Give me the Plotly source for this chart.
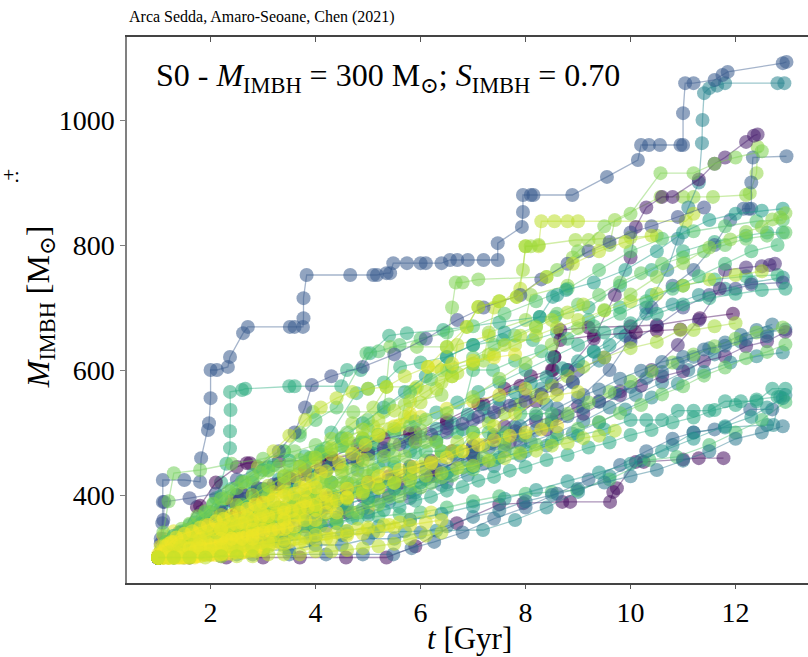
import plotly.graph_objects as go
from plotly.colors import sample_colorscale

# ---- IMBH growth histories: viridis colour value, then (t [Gyr], M [Msun]) events ----
purple_runs = [
    (0.04, [(1.0,300),(1.6,300),(2.3,300),(3.0,300),(3.7,300),(4.58,300),(5.35,300),(5.9,318),(6.69,355),(7.5,385),(7.96,387),(8.7,389),(8.85,389),(9.61,389),(9.67,405),(9.74,411),(10.1,453),(10.25,453),(11.0,457),(11.3,459),(11.77,459)]),
    (0.08, [(1.0,300),(1.5,304),(2.2,315),(3.0,330),(3.8,350),(4.6,372),(5.4,400),(6.2,430),(7.0,470),(7.6,510),(8.2,550),(8.8,600),(9.3,650),(9.7,720),(10.0,780),(10.1,829),(10.3,860),(10.6,877),(10.8,877),(11.3,905),(11.6,930),(11.8,940),(12.2,965),(12.35,975),(12.42,977)]),
    (0.02, [(1.0,300),(1.2,315),(1.45,340),(1.74,381),(1.8,383),(2.1,420),(2.5,445),(2.69,451),(2.75,451),(3.3,454),(4.21,456),(4.3,458),(5.0,470),(5.8,490),(6.5,515),(7.2,545),(7.9,575),(8.52,600),(8.55,621),(8.66,664),(9.2,668),(10.0,670),(10.5,672),(11.32,683),(11.95,690)]),
    (0.12, [(1.0,300),(1.5,310),(2.1,325),(2.8,345),(3.5,362),(4.2,380),(4.9,398),(5.6,420),(6.3,440),(7.0,462),(7.7,485),(8.4,505),(9.1,530),(9.8,560),(10.4,600),(10.9,640),(11.3,680),(11.7,730),(11.8,760),(12.2,764),(12.5,766),(12.65,768),(12.75,770)]),
    (0.0, [(1.0,300),(1.3,306),(1.7,320),(2.1,345),(2.5,372),(2.9,395),(3.3,418),(3.8,440),(4.3,460),(4.8,480),(5.3,490),(5.8,499),(5.9,500),(6.5,520),(7.1,545),(7.6,570),(8.1,590),(8.5,600),(8.55,621),(8.66,648),(9.3,655),(10.1,660),(10.5,663),(10.95,665)]),
    (0.1, [(1.0,300),(1.4,311),(1.8,322),(2.2,336),(2.6,347),(3.0,361),(3.4,371),(3.8,386),(4.2,395),(4.6,409),(5.0,421),(5.4,430),(5.8,446),(6.2,455),(6.6,470),(7.0,478),(7.4,493),(7.8,502),(8.2,518),(8.6,527),(9.0,542),(9.4,550),(9.8,566),(10.2,575),(10.6,590),(11.0,598),(11.4,614),(11.8,622),(12.2,638),(12.6,646),(12.95,661)]),
]

blue_runs = [
    (0.28, [(1.0,300),(1.05,330),(1.08,355),(1.09,389),(1.09,424),(1.5,424),(1.8,421),(1.82,459),(1.95,504),(1.97,515),(2.0,555),(2.0,600),(2.12,600),(2.33,605),(2.37,621),(2.62,659),(2.71,669),(3.51,669),(3.6,669),(3.76,669),(3.77,683),(3.77,715),(3.83,752),(4.66,752),(5.1,752),(5.17,752),(5.35,755),(5.42,755),(5.48,771),(5.74,771),(6.0,771),(6.1,771),(6.4,771),(6.56,776),(6.7,776),(6.9,776),(7.2,776),(7.47,776),(7.47,803),(7.93,829),(7.95,853),(7.95,880),(8.1,880),(8.15,880),(8.89,880),(9.55,909),(10.14,936),(10.2,960),(10.35,960),(10.56,960),(10.95,960),(11.0,960),(11.0,1011),(11.04,1059),(11.2,1059),(11.6,1064),(11.75,1072),(11.85,1077),(12.9,1091),(12.97,1093)]),
    (0.3, [(1.0,300),(1.6,305),(2.4,318),(3.3,332),(4.2,350),(5.0,372),(5.8,395),(6.5,420),(7.2,450),(7.9,482),(8.5,520),(9.1,560),(9.6,600),(10.0,650),(10.4,700),(10.8,735),(11.2,760),(11.6,800),(11.9,840),(12.15,858),(12.25,858),(12.3,858),(12.3,900),(12.33,940),(12.97,942)]),
    (0.22, [(1.0,300),(1.1,330),(1.4,340),(1.9,352),(2.5,400),(2.6,402),(3.0,410),(3.6,420),(4.2,440),(4.8,455),(5.3,470),(5.9,485),(6.5,500),(7.0,520),(7.5,540),(8.0,560),(8.5,580),(9.0,600),(9.5,620),(10.0,645),(10.5,670),(11.0,700),(11.5,720),(12.0,730),(12.3,737),(12.9,740)]),
    (0.33, [(1.0,300),(1.6,300),(2.2,302),(2.8,305),(3.5,305),(4.2,305),(4.9,305),(5.48,305),(5.83,315),(6.26,325),(6.8,340),(7.4,362),(8.0,380),(8.6,402),(9.2,425),(9.8,448),(10.3,470),(10.8,490),(11.2,500),(11.6,505),(12.28,537),(12.7,537)]),
    (0.25, [(1.0,300),(1.05,322),(1.1,360),(1.12,389),(1.6,395),(2.1,402),(2.5,425),(2.9,445),(3.3,470),(3.6,500),(3.8,540),(3.93,576),(4.3,590),(4.9,605),(5.5,625),(6.1,650),(6.7,680),(7.2,700),(7.9,720),(8.3,745),(8.8,770),(9.2,790),(9.6,805),(10.0,820),(10.4,830),(10.9,845),(11.4,860)]),
    (0.2, [(1.0,300),(1.3,318),(1.6,336),(1.9,351),(2.2,373),(2.4,391),(2.5,400),(2.6,402),(2.9,411),(3.2,417),(3.5,427),(3.8,433),(4.1,443),(4.4,449),(4.7,459),(5.0,465),(5.3,475),(5.6,481),(5.9,491),(6.2,497),(6.5,507),(6.8,514),(7.1,525),(7.4,532),(7.7,543),(8.0,550),(8.3,561),(8.6,569),(8.9,581)]),
    (0.38, [(1.0,300),(1.3,307),(1.6,314),(1.9,326),(2.2,334),(2.5,346),(2.8,354),(3.1,366),(3.4,371),(3.7,381),(4.0,387),(4.3,396),(4.6,401),(4.9,411),(5.2,417),(5.5,426),(5.8,431),(6.1,441),(6.4,447),(6.7,457),(7.0,464),(7.3,475),(7.6,483),(7.9,495),(8.2,504),(8.5,517),(8.8,526),(9.1,539),(9.4,549),(9.7,563),(10.0,573),(10.3,587),(10.6,597),(10.9,611),(11.2,621),(11.5,635),(11.8,644),(12.1,656),(12.4,664),(12.7,673)]),
    (0.35, [(1.0,300),(1.4,308),(1.8,319),(2.2,329),(2.6,341),(3.0,351),(3.4,363),(3.8,374),(4.2,389),(4.6,399),(5.0,413),(5.4,424),(5.8,439),(6.2,451),(6.6,466),(7.0,479),(7.4,496),(7.8,509),(8.2,526),(8.6,539),(9.0,556),(9.4,569),(9.8,586),(10.2,599),(10.6,613),(11.0,621),(11.4,633),(11.8,639),(12.2,649),(12.6,654)]),
]

teal_runs = [
    (0.45, [(1.0,300),(1.3,300),(1.7,308),(2.1,318),(2.6,325),(3.2,340),(3.9,355),(4.5,372),(5.2,390),(5.8,405),(6.3,430),(6.9,455),(7.4,482),(7.9,510),(8.4,545),(8.9,580),(9.4,615),(9.9,655),(10.3,700),(10.7,760),(10.9,810),(11.1,860),(11.3,900),(11.36,963),(11.37,1000),(11.4,1043),(11.5,1051),(11.65,1055),(11.8,1059),(12.8,1059),(12.93,1059)]),
    (0.5, [(1.0,300),(1.2,310),(1.6,320),(2.0,340),(2.4,356),(2.8,370),(3.3,380),(3.8,398),(4.3,420),(4.8,440),(5.3,455),(5.8,470),(6.3,488),(6.8,505),(7.3,525),(7.8,545),(8.3,570),(8.8,600),(9.3,630),(9.8,660),(10.3,690),(10.8,705),(11.3,720),(11.8,730),(12.3,740),(12.9,748)]),
    (0.48, [(1.0,300),(1.5,303),(2.1,310),(2.7,318),(3.3,325),(3.9,330),(4.5,336),(5.1,340),(5.7,342),(6.3,343),(7.19,344),(7.8,360),(8.4,380),(9.0,405),(9.6,430),(10.2,455),(10.8,480),(11.2,500),(11.8,508),(12.6,512),(12.72,512),(12.85,557),(12.95,560)]),
    (0.42, [(1.0,300),(1.3,310),(1.7,318),(2.1,330),(2.6,340),(3.1,352),(3.6,360),(4.1,372),(4.6,385),(5.1,398),(5.6,410),(6.1,425),(6.6,440),(7.1,455),(7.6,470),(8.1,485),(8.6,500),(9.1,518),(9.6,540),(10.1,560),(10.6,580),(11.1,600),(11.6,625),(12.1,645),(12.6,660),(12.95,665)]),
    (0.55, [(1.0,300),(1.2,318),(1.5,335),(1.8,352),(2.1,365),(2.5,385),(2.9,405),(3.3,425),(3.7,445),(4.1,465),(4.5,490),(4.9,515),(5.3,540),(5.7,565),(6.1,590),(6.5,621),(7.0,640),(7.6,660),(8.27,685),(8.52,717),(8.6,720),(8.77,728),(9.3,740),(9.9,760),(10.5,790),(11.0,820),(11.5,840),(12.0,850),(12.5,855),(12.9,858)]),
    (0.55, [(1.0,300),(1.1,311),(1.25,319),(1.4,333),(1.55,344),(1.7,356),(1.85,364),(2.0,373),(2.2,379),(2.4,389),(2.6,394),(2.8,403),(3.0,409),(3.3,419),(3.6,424),(3.9,433),(4.2,439),(4.5,449),(4.8,455),(5.1,466),(5.4,473),(5.7,485),(6.0,493),(6.3,506),(6.6,515),(6.9,529),(7.2,539),(7.5,553),(7.8,564),(8.1,579),(8.4,589),(8.7,603),(9.0,614),(9.3,629),(9.6,640)]),
    (0.47, [(1.0,300),(1.4,304),(1.9,313),(2.4,321),(2.9,334),(3.4,342),(3.9,356),(4.4,364),(4.9,378),(5.4,389),(5.9,404),(6.4,416),(6.9,432),(7.4,446),(7.9,463),(8.4,479),(8.9,498),(9.4,516),(9.9,537),(10.4,556),(10.9,578),(11.4,597),(11.9,612),(12.4,622),(12.9,628)]),
    (0.4, [(1.0,300),(1.5,300),(2.0,305),(2.5,305),(3.0,312),(3.5,312),(4.0,320),(4.5,320),(5.0,330),(5.5,330),(6.0,340),(6.5,350),(7.0,365),(7.5,375),(8.0,390),(8.5,400),(9.0,410),(9.5,420),(10.0,430),(10.5,440),(11.0,455),(11.5,470),(12.0,490),(12.5,500),(12.9,510)]),
    (0.52, [(1.0,300),(1.6,304),(2.2,310),(2.8,318),(3.4,326),(4.0,334),(4.6,342),(5.2,350),(5.8,360),(6.4,370),(7.0,382),(7.6,394),(8.2,408),(8.8,422),(9.4,436),(10.0,450),(10.6,470),(11.2,490),(11.8,510),(12.3,525),(12.6,540),(12.9,555)]),
]

green_runs = [
    (0.62, [(1.0,300),(1.3,310),(1.6,330),(1.9,360),(2.1,395),(2.2,420),(2.3,450),(2.37,475),(2.37,502),(2.38,536),(2.37,565),(2.6,568),(2.66,570),(3.5,574),(3.6,574),(4.49,574),(4.6,600),(4.86,600),(5.04,627),(5.4,655),(5.74,659),(6.43,664),(7.5,676),(8.27,685),(8.56,685),(9.2,700),(9.8,735),(10.4,760),(11.0,790),(11.6,805),(12.2,815),(12.6,820),(12.9,820)]),
    (0.65, [(1.0,300),(1.5,312),(2.0,335),(2.5,365),(3.0,395),(3.5,430),(3.95,460),(4.3,500),(4.78,563),(5.0,570),(5.3,580),(5.61,605),(6.0,612),(6.5,621),(7.0,640),(7.57,648),(8.14,648),(8.6,660),(9.2,680),(9.8,700),(10.4,720),(11.0,735),(11.6,745),(12.2,750),(12.8,752)]),
    (0.7, [(1.0,300),(1.3,300),(1.6,305),(2.0,310),(2.4,316),(2.8,322),(3.2,330),(3.6,338),(4.0,346),(4.4,355),(4.8,362),(5.2,366),(5.6,369),(6.0,372),(6.5,380),(7.0,390),(7.5,398),(8.0,402),(8.5,405),(8.98,408),(9.6,425),(10.36,456),(10.88,461),(11.5,480),(12.0,500),(12.5,520),(12.95,549)]),
    (0.72, [(1.0,300),(1.15,310),(1.35,325),(1.6,340),(1.9,360),(2.2,380),(2.5,400),(2.8,420),(3.1,445),(3.4,470),(3.7,495),(4.0,520),(4.4,540),(4.97,627),(5.2,630),(5.6,640),(6.0,650),(6.5,660),(7.0,670),(7.6,690),(8.2,710),(8.8,730),(9.4,760),(10.0,790),(10.6,810),(11.2,822),(11.8,830),(12.4,838),(12.9,840)]),
    (0.68, [(1.0,300),(1.2,305),(1.5,312),(1.9,322),(2.3,332),(2.7,345),(3.1,358),(3.5,372),(3.9,388),(4.3,402),(4.7,418),(5.1,435),(5.5,450),(5.9,468),(6.3,485),(6.7,500),(7.0,600),(7.38,600),(7.8,615),(8.3,630),(8.8,650),(9.3,670),(9.8,690),(10.3,710),(10.8,730),(11.3,750),(11.8,770),(12.3,790),(12.8,800)]),
    (0.6, [(1.0,300),(1.1,305),(1.3,318),(1.6,330),(1.8,345),(2.0,355),(2.3,362),(2.7,380),(3.1,398),(3.5,412),(3.9,430),(4.3,448),(4.7,465),(5.1,482),(5.5,500),(5.9,518),(6.3,532),(6.7,548),(7.1,565),(7.5,580),(8.0,600),(8.5,620),(9.0,640),(9.5,660),(10.0,675),(10.5,690),(11.0,705),(11.5,715),(12.0,722),(12.5,728),(12.95,730)]),
    (0.6, [(1.0,300),(1.2,301),(1.4,306),(1.6,309),(1.8,315),(2.0,317),(2.3,323),(2.6,325),(2.9,331),(3.2,334),(3.5,341),(3.8,344),(4.1,351),(4.4,355),(4.7,363),(5.0,367),(5.3,376),(5.6,381),(5.9,391),(6.2,397),(6.5,407),(6.8,413),(7.1,423),(7.4,429),(7.7,439),(8.0,445),(8.4,456),(8.8,464),(9.2,476),(9.6,484),(10.0,496),(10.4,504),(10.8,516),(11.2,524),(11.6,536),(12.0,544),(12.4,553),(12.8,557)]),
    (0.76, [(1.0,300),(1.4,304),(1.8,316),(2.2,321),(2.6,331),(3.0,339),(3.4,351),(3.8,357),(4.2,369),(4.6,377),(5.0,389),(5.4,397),(5.8,411),(6.2,419),(6.6,431),(7.0,441),(7.4,456),(7.8,467),(8.2,481),(8.6,491),(9.0,506),(9.4,517),(9.8,531),(10.2,544),(10.6,561),(11.0,574),(11.4,591),(11.8,604),(12.2,619),(12.6,629),(12.95,641)]),
    (0.7, [(1.0,300),(1.2,310),(1.4,310),(1.6,310),(1.8,330),(2.0,330),(2.2,330),(2.4,350),(2.6,350),(2.8,350),(3.0,375),(3.2,375),(3.4,375),(3.6,395),(3.8,395),(4.0,395),(4.3,420),(4.6,420),(4.9,420),(5.2,445),(5.5,445),(5.8,445),(6.1,470),(6.4,470),(6.7,470),(7.0,500),(7.3,500),(7.6,500),(7.9,530),(8.2,530),(8.5,530)]),
    (0.58, [(1.0,300),(1.5,310),(2.0,320),(2.5,335),(3.0,345),(3.5,360),(4.0,370),(4.5,385),(5.0,395),(5.5,410),(6.0,420),(6.5,435),(7.0,445),(7.5,460),(8.0,470),(8.5,485),(9.0,495),(9.5,505),(10.0,520),(10.3,520),(10.6,520),(10.9,535),(11.2,535),(11.5,535),(11.8,550),(12.1,550),(12.4,550),(12.7,570),(12.95,570)]),
    (0.75, [(1.0,300),(1.4,320),(1.8,340),(2.2,362),(2.6,385),(3.0,408),(3.4,430),(3.8,452),(4.2,475),(4.6,500),(5.0,520),(5.4,545),(5.8,565),(6.2,585),(6.6,605),(7.0,620),(7.4,640),(7.8,655),(8.2,670),(8.6,690),(9.0,705),(9.4,720),(9.8,740),(10.2,755),(10.6,770),(11.0,780),(11.4,790),(11.8,800),(12.2,810),(12.6,815),(12.95,820)]),
]

lime_runs = [
    (0.83, [(1.0,300),(1.3,300),(1.4,322),(2.1,330),(2.2,355),(3.0,365),(3.1,395),(3.9,405),(4.0,440),(4.8,452),(4.9,490),(5.6,505),(5.7,545),(6.4,560),(6.5,600),(7.2,615),(7.3,660),(8.0,680),(8.1,720),(8.8,735),(8.9,780),(9.6,800),(9.7,840),(10.57,877),(11.0,877),(11.2,877),(11.57,877),(12.2,880),(12.27,883),(12.4,915),(12.42,957)]),
    (0.9, [(1.0,300),(1.2,310),(1.5,310),(1.6,330),(2.3,335),(2.4,365),(3.2,375),(3.3,410),(4.1,420),(4.2,460),(5.0,470),(5.1,510),(5.8,525),(5.9,570),(6.6,590),(6.7,640),(7.3,655),(7.4,700),(7.9,730),(8.0,798),(8.25,798),(8.3,838),(8.55,838),(8.8,838),(9.0,838),(11.05,838),(11.2,850)]),
    (0.85, [(1.0,300),(1.2,315),(1.5,330),(1.9,345),(2.3,365),(2.7,390),(3.1,410),(3.5,435),(3.9,460),(4.3,490),(4.7,515),(5.1,540),(5.35,573),(5.93,573),(6.4,600),(6.88,669),(7.1,701),(7.5,710),(7.83,717),(7.95,760),(8.0,798),(8.1,798),(8.25,800),(8.95,808),(9.2,808),(9.4,810),(10.0,812),(10.5,815)]),
    (0.8, [(1.0,300),(1.4,310),(1.8,330),(2.2,355),(2.5,380),(2.8,410),(3.1,440),(3.4,470),(3.7,500),(3.95,533),(4.72,533),(5.3,533),(5.42,637),(5.93,637),(6.5,637),(6.6,700),(6.67,740),(6.8,740),(7.1,745),(8.4,749),(8.6,760),(9.0,790),(9.5,830),(10.0,850),(10.57,915),(11.2,915),(11.6,930),(12.0,940),(12.5,950)]),
    (0.88, [(1.0,300),(1.2,302),(1.5,310),(1.8,318),(2.1,328),(2.4,340),(2.7,352),(3.0,365),(3.3,380),(3.6,395),(3.9,412),(4.2,428),(4.5,445),(4.8,465),(5.1,485),(5.4,505),(5.7,525),(6.0,548),(6.3,570),(6.6,590),(7.0,610),(7.4,625),(7.8,640),(8.2,655),(8.6,668),(9.0,680),(9.5,695),(10.0,710),(10.5,722),(11.0,735),(11.5,745),(12.0,752),(12.5,758)]),
    (0.86, [(1.0,300),(1.1,300),(1.3,305),(1.6,308),(1.9,315),(2.2,320),(2.5,328),(2.8,336),(3.1,345),(3.4,355),(3.7,365),(4.0,375),(4.3,385),(4.6,395),(4.9,406),(5.2,418),(5.5,430),(5.8,442),(6.1,455),(6.4,470),(6.7,485),(7.0,500),(7.3,515),(7.6,530),(7.9,545),(8.2,560),(8.5,575),(8.8,590),(9.1,605),(9.5,620),(10.0,635),(10.5,645),(10.95,664),(11.2,664),(11.6,670),(12.0,675)]),
    (0.9, [(1.0,300),(1.2,312),(1.45,330),(1.7,350),(2.0,372),(2.3,395),(2.6,420),(2.9,445),(3.2,470),(3.5,495),(3.8,520),(4.1,540),(4.4,555),(4.7,565),(5.0,570),(5.35,573),(5.7,590),(6.14,605),(6.5,637),(6.88,669),(7.1,701),(7.5,710),(7.83,717),(8.4,749),(8.9,770),(9.4,790),(9.9,805),(10.4,815)]),
    (0.8, [(1.0,300),(1.2,300),(1.4,302),(1.7,306),(2.0,312),(2.4,318),(2.8,325),(3.2,332),(3.6,340),(4.0,350),(4.4,360),(4.8,372),(5.2,385),(5.6,398),(6.0,412),(6.4,428),(6.8,444),(7.2,460),(7.6,478),(8.0,495),(8.4,512),(8.8,530),(9.2,548),(9.6,565),(10.0,582),(10.4,598),(10.8,612),(11.2,625),(11.6,638),(12.0,650),(12.4,660),(12.9,668)]),
    (0.78, [(1.0,300),(1.1,340),(1.2,390),(1.3,435),(1.8,440),(2.4,450),(3.0,458),(3.6,470),(4.0,480),(4.5,492),(5.0,505)]),
    (0.75, [(1.0,300),(1.15,302),(1.3,306),(1.5,312),(1.7,318),(1.9,322),(2.1,328),(2.3,335),(2.5,340),(2.7,346),(2.9,352),(3.1,358),(3.3,365),(3.5,372),(3.7,378),(3.9,385),(4.1,390),(4.4,398),(4.7,405),(5.0,412),(5.4,420),(5.8,428)]),
    (0.65, [(1.0,300),(1.05,310),(1.15,325),(1.3,335),(1.45,342),(1.6,352),(1.75,362),(1.9,372),(2.05,385),(2.2,398),(2.4,410),(2.6,422),(2.8,432),(3.0,440),(3.2,448),(3.5,455),(3.8,462),(4.1,470),(4.5,478),(4.9,485)]),
    (0.85, [(1.0,300),(1.1,301),(1.2,306),(1.3,307),(1.4,311),(1.5,312),(1.6,317),(1.7,318),(1.8,323),(1.9,325),(2.0,329),(2.1,332),(2.2,336),(2.35,341),(2.5,346),(2.65,351),(2.8,356),(2.95,361),(3.1,366),(3.25,371),(3.4,377),(3.55,383),(3.7,389),(3.85,395),(4.0,401),(4.2,407),(4.4,413),(4.6,419),(4.8,425),(5.0,431)]),
    (0.8, [(1.0,300),(1.15,321),(1.3,331),(1.45,346),(1.6,354),(1.75,366),(1.9,374),(2.05,386),(2.2,394),(2.35,406),(2.5,411),(2.65,421),(2.8,427),(2.95,436),(3.1,439),(3.3,446),(3.5,449),(3.7,456),(3.9,459),(4.1,467),(4.3,471),(4.5,479),(4.7,483),(4.9,491),(5.2,497),(5.5,506),(5.8,511),(6.1,521)]),
    (0.88, [(1.0,300),(1.3,306),(1.6,311),(1.9,321),(2.2,327),(2.5,337),(2.8,344),(3.1,355),(3.4,362),(3.7,373),(4.0,380),(4.3,391),(4.6,397),(4.9,406),(5.2,411),(5.5,419),(5.8,423),(6.1,431),(6.4,435),(6.7,443),(7.0,447),(7.3,455),(7.6,459),(7.9,467),(8.2,471),(8.5,479),(8.8,483),(9.1,491),(9.4,495),(9.7,503)]),
    (0.82, [(1.0,300),(1.5,316),(2.0,329),(2.5,351),(3.0,369),(3.5,391),(4.0,411),(4.5,436),(5.0,457),(5.5,481),(6.0,504),(6.5,531),(7.0,557),(7.5,586),(8.0,611),(8.5,641),(9.0,667),(9.5,696),(10.0,721),(10.5,749),(11.0,771),(11.5,796),(11.9,809),(12.2,821),(12.5,829),(12.7,841),(12.85,844),(12.95,851)]),
    (0.82, [(1.0,300),(1.15,325),(1.3,325),(1.5,325),(1.7,340),(1.9,340),(2.1,340),(2.3,360),(2.5,360),(2.7,360),(2.9,380),(3.1,380),(3.3,380),(3.5,402),(3.7,402),(3.9,402),(4.1,420),(4.3,420),(4.5,420),(4.7,440),(4.9,440),(5.1,440),(5.3,462),(5.5,462),(5.7,462),(5.9,485),(6.1,485),(6.3,485)]),
    (0.88, [(1.0,300),(1.3,318),(1.6,336),(1.9,352),(2.2,368),(2.5,384),(2.8,400),(3.1,415),(3.4,430),(3.7,445),(4.0,460),(4.3,475),(4.6,490),(4.9,505),(5.2,520),(5.5,535),(5.8,550),(6.1,565),(6.4,580),(6.7,595),(7.0,610),(7.3,625),(7.6,640),(7.9,655),(8.2,668),(8.5,680),(8.8,692),(9.1,705)]),
]

yellow_runs = [
    (1.0, [(1.0,300),(1.1,300),(1.25,302),(1.4,305),(1.55,305),(1.7,308),(1.9,312),(2.1,312),(2.3,318),(2.5,320),(2.7,326),(2.9,330),(3.1,333),(3.3,340),(3.5,342)]),
    (0.97, [(1.0,300),(1.15,306),(1.3,310),(1.5,318),(1.7,320),(1.85,328),(2.0,335),(2.2,340),(2.4,352),(2.6,355),(2.8,362),(3.0,370),(3.3,372),(3.6,380),(3.9,388),(4.2,392)]),
    (0.95, [(1.0,300),(1.2,300),(1.45,300),(1.6,304),(1.8,310),(2.0,315),(2.3,315),(2.6,322),(2.8,330),(3.2,336),(3.5,345),(3.8,352),(4.1,360),(4.4,366),(4.7,372),(5.0,380)]),
    (0.99, [(1.0,300),(1.1,312),(1.2,322),(1.4,328),(1.6,340),(1.75,350),(2.0,355),(2.2,368),(2.5,372),(2.8,385),(3.0,398),(3.2,410),(3.4,415),(3.7,428)]),
    (0.93, [(1.0,300),(1.3,300),(1.7,302),(2.2,305),(2.6,308),(3.0,312),(3.4,318),(3.8,322),(4.2,330),(4.6,338),(5.0,345),(5.4,352),(5.8,360),(6.2,372)]),
    (0.96, [(1.0,300),(1.05,318),(1.1,335),(1.3,342),(1.6,345),(1.9,350),(2.3,360),(2.7,365),(2.9,380),(3.1,400),(3.4,405),(3.8,418),(4.1,435),(4.5,440),(4.9,456)]),
    (0.91, [(1.0,300),(1.4,308),(1.8,318),(2.2,324),(2.6,330),(3.0,345),(3.4,355),(3.7,372),(4.0,380),(4.4,392),(4.8,405),(5.2,420),(5.6,432),(6.0,445),(6.4,462),(6.8,470),(7.2,480),(7.6,492)]),
    (0.98, [(1.0,300),(1.1,300),(1.2,300),(1.35,300),(1.5,300),(1.7,300),(1.85,305),(2.0,305),(2.2,305),(2.4,310),(2.6,310),(2.8,312),(3.0,316),(3.2,322),(3.5,325)]),
    (0.94, [(1.0,300),(1.1,305),(1.25,312),(1.4,318),(1.6,326),(1.8,335),(2.0,345),(2.2,355),(2.4,362),(2.6,372),(2.8,380),(3.0,392),(3.2,405),(3.4,418),(3.6,430),(3.8,440),(4.0,452),(4.3,465),(4.6,478),(4.9,490),(5.2,500),(5.6,512),(6.0,525),(6.5,538),(7.0,550),(7.5,560),(8.0,570)]),
    (0.92, [(1.0,300),(1.3,304),(1.6,310),(1.9,318),(2.2,325),(2.5,334),(2.8,342),(3.1,352),(3.4,360),(3.7,368),(4.0,376),(4.3,385),(4.6,394),(4.9,403),(5.2,412),(5.5,420),(5.86,435),(6.2,450),(6.6,470),(7.0,490),(7.4,510),(7.8,530),(8.33,555),(8.6,560),(9.0,565)]),
    (1.0, [(1.0,300),(1.05,300),(1.12,300),(1.2,300),(1.28,300),(1.36,302),(1.45,302),(1.55,305),(1.65,305),(1.75,308),(1.85,308),(2.0,310),(2.15,312),(2.3,315),(2.5,318),(2.7,320),(2.9,322),(3.1,325)]),
    (0.97, [(1.0,300),(1.1,308),(1.2,315),(1.35,320),(1.5,325),(1.7,330),(1.9,338),(2.1,345),(2.35,350),(2.6,358),(2.85,365),(3.1,372),(3.35,380),(3.6,386),(3.85,392),(4.1,400)]),
    (0.85, [(1.0,300),(1.1,300),(1.25,304),(1.4,308),(1.55,312),(1.7,315),(1.85,320),(2.0,325),(2.15,330),(2.3,333),(2.45,338),(2.6,342),(2.8,348),(3.0,352),(3.2,358),(3.4,362),(3.6,368),(3.8,372),(4.0,378)]),
    (1.0, [(1.0,300),(1.08,300),(1.16,300),(1.24,300),(1.32,300),(1.4,300),(1.48,300),(1.56,300),(1.64,302),(1.72,302),(1.8,302),(1.9,304),(2.0,304),(2.1,304),(2.2,306),(2.3,306),(2.4,306),(2.5,308),(2.62,308),(2.74,310),(2.86,310),(3.0,312)]),
    (0.99, [(1.0,305),(1.1,310),(1.2,312),(1.3,312),(1.4,315),(1.5,315),(1.6,318),(1.7,318),(1.8,320),(1.9,322),(2.0,322),(2.1,325),(2.2,325),(2.3,328),(2.4,330),(2.5,330),(2.6,332),(2.7,335),(2.8,335),(2.9,338),(3.0,340),(3.15,342),(3.3,345),(3.45,348),(3.6,350)]),
    (0.96, [(1.0,300),(1.1,318),(1.2,322),(1.3,325),(1.45,330),(1.6,332),(1.75,338),(1.9,340),(2.05,345),(2.2,348),(2.35,350),(2.5,352),(2.65,356),(2.8,360),(2.95,362),(3.1,366),(3.25,370),(3.4,372),(3.55,375),(3.7,378),(3.85,380),(4.0,384),(4.2,388),(4.4,392),(4.6,396)]),
    (0.93, [(1.0,300),(1.2,300),(1.4,303),(1.6,306),(1.8,308),(2.0,310),(2.2,313),(2.4,316),(2.6,318),(2.8,320),(3.0,323),(3.2,326),(3.4,328),(3.6,330),(3.8,333),(4.0,336),(4.2,338),(4.4,340),(4.6,343),(4.8,346),(5.0,348),(5.3,352),(5.6,356)]),
    (0.98, [(1.0,300),(1.05,310),(1.15,318),(1.25,325),(1.35,332),(1.5,338),(1.65,342),(1.8,348),(1.95,352),(2.1,358),(2.25,362),(2.4,368),(2.55,372),(2.7,378),(2.85,385),(3.0,388),(3.2,392),(3.4,398),(3.6,402),(3.8,408),(4.0,412)]),
    (0.94, [(1.0,300),(1.3,302),(1.6,305),(1.9,305),(2.2,308),(2.5,310),(2.8,315),(3.1,318),(3.4,322),(3.7,325),(4.0,328),(4.3,330),(4.6,335),(4.9,338),(5.2,342),(5.5,348),(5.8,352),(6.1,356),(6.4,360)]),
    (0.97, [(1.0,300),(1.4,318),(1.8,330),(2.2,345),(2.6,355),(3.0,368),(3.4,378),(3.8,390),(4.2,400),(4.6,410),(5.0,420),(5.2,430),(5.35,435),(5.6,440),(5.86,445),(6.2,452),(6.5,460),(6.8,470),(7.1,480),(7.4,488),(7.7,495),(8.0,500),(8.3,505),(8.6,510)]),
    (0.95, [(1.0,300),(1.2,308),(1.45,318),(1.7,326),(1.95,335),(2.2,345),(2.45,355),(2.7,365),(2.95,376),(3.2,388),(3.45,400),(3.7,412),(3.95,425),(4.2,438),(4.45,452),(4.7,466),(4.95,480),(5.2,495),(5.5,510),(5.8,530),(6.14,605),(6.3,606),(6.6,610),(7.0,615),(7.4,620),(7.8,625)]),
    (0.97, [(1.0,300),(1.2,300),(1.4,300),(1.6,300),(1.6,315),(1.8,315),(2.0,315),(2.2,315),(2.2,330),(2.4,330),(2.6,330),(2.8,330),(2.8,345),(3.0,345),(3.2,345),(3.4,345),(3.4,360),(3.6,360),(3.8,360),(4.0,360),(4.2,372),(4.4,372)]),
    (0.9, [(1.0,300),(1.3,300),(1.6,300),(1.9,300),(2.2,302),(2.5,302),(2.8,302),(3.1,305),(3.4,305),(3.7,305),(4.0,310),(4.3,310),(4.6,312),(4.9,315),(5.2,318),(5.5,322),(5.8,330),(6.1,335),(6.4,340)]),
]

x_ticks = [2, 4, 6, 8, 10, 12]
y_ticks = [400, 600, 800, 1000]

SERIF = "Liberation Serif, DejaVu Serif, serif"


def rgba(value, alpha):
    rgb = sample_colorscale("Viridis", [value])[0]
    return rgb.replace("rgb(", "rgba(").replace(")", f", {alpha})")


fig = go.Figure()

# interleave the colour families so no single one always sits on top
groups = [lime_runs, teal_runs, purple_runs, green_runs, blue_runs, yellow_runs]
ordered = []
longest = max(len(g) for g in groups)
for i in range(longest):
    for g in groups:
        if i < len(g):
            ordered.append(g[i])

for value, pts in ordered:
    ts = [p[0] for p in pts]
    ms = [p[1] for p in pts]
    fig.add_trace(go.Scatter(
        x=ts, y=ms, mode="lines+markers",
        line=dict(color=rgba(value, 0.45), width=1.3),
        marker=dict(size=14, color=rgba(value, 0.55), line=dict(width=0)),
        showlegend=False, hoverinfo="skip",
    ))

# dummy trace that activates the top tick axis
fig.add_trace(go.Scatter(x=[None], y=[None], xaxis="x2", showlegend=False, hoverinfo="skip"))

fig.update_layout(
    width=808, height=657,
    margin=dict(l=127, r=0, t=37, b=74),
    paper_bgcolor="white", plot_bgcolor="white",
    font=dict(family=SERIF, color="black"),
    xaxis=dict(
        range=[0.408, 13.38], tickvals=x_ticks, ticktext=[str(v) for v in x_ticks],
        showgrid=False, zeroline=False,
        showline=True, linecolor="#444444", linewidth=1.5, mirror=True,
        ticks="outside", ticklen=4, tickcolor="#555555",
        tickfont=dict(size=28, family=SERIF),
    ),
    xaxis2=dict(
        overlaying="x", side="top", matches="x", tickvals=x_ticks,
        showticklabels=False, ticks="inside", ticklen=5, tickcolor="#555555",
        showgrid=False, zeroline=False, showline=False,
    ),
    yaxis=dict(
        range=[259.2, 1132.8], tickvals=y_ticks, ticktext=[str(v) for v in y_ticks],
        showgrid=False, zeroline=False,
        showline=True, linecolor="#808080", linewidth=1.5,
        ticks="outside", ticklen=5, tickcolor="#808080",
        tickfont=dict(size=28, family=SERIF),
    ),
    annotations=[
        dict(text="Arca Sedda, Amaro-Seoane, Chen (2021)", xref="paper", yref="paper",
             x=0, y=1, xanchor="left", yanchor="bottom", yshift=9, showarrow=False,
             font=dict(size=16, family=SERIF)),
        dict(text="S0 - <i>M</i><sub>IMBH</sub> = 300 M<sub>⊙</sub>; <i>S</i><sub>IMBH</sub> = 0.70",
             xref="paper", yref="paper", x=0.04, y=0.925, xanchor="left", yanchor="middle",
             showarrow=False, font=dict(size=32, family=SERIF)),
        dict(text="<i>t</i> [Gyr]", xref="paper", yref="paper", x=0.503, y=0,
             xanchor="center", yanchor="middle", yshift=-55, showarrow=False,
             font=dict(size=31, family=SERIF)),
        dict(text="<i>M</i><sub>IMBH</sub> [M<sub>⊙</sub>]", xref="paper", yref="paper",
             x=0, y=0.505, xshift=-87, textangle=-90, xanchor="center", yanchor="middle",
             showarrow=False, font=dict(size=32, family=SERIF)),
        dict(text="+:", xref="paper", yref="paper", x=0, y=0.748, xshift=-126,
             xanchor="left", yanchor="middle", showarrow=False,
             font=dict(size=20, family=SERIF)),
    ],
)

fig.write_html("out.html")
